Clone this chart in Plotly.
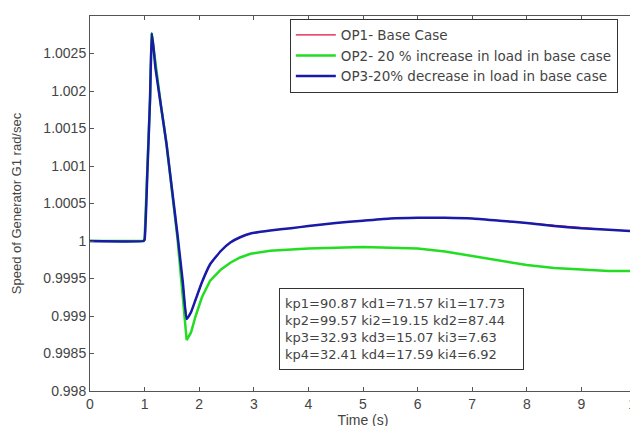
import plotly.graph_objects as go

# time (s)
time = [0, 0.98, 1.0, 1.05, 1.1, 1.13, 1.16, 1.2, 1.3, 1.4, 1.5, 1.6, 1.7, 1.77, 1.85, 1.93,
        2.05, 2.2, 2.4, 2.57, 2.75, 2.94, 3.3, 3.68, 4.0, 4.5, 5.0, 5.5, 6.0, 6.5, 7.0, 7.5,
        8.0, 8.5, 9.0, 9.5, 10.0]

op3 = [1.0, 1.0, 1.00002, 1.0009, 1.0019, 1.00277, 1.0026, 1.0023, 1.0018, 1.0013, 1.0007, 1.0001,
       0.99945, 0.99896, 0.99905, 0.99921, 0.99945, 0.99969, 0.99987, 0.99998, 1.00005, 1.0001,
       1.00014, 1.00017, 1.0002, 1.00024, 1.00027, 1.0003, 1.00031, 1.00031, 1.0003, 1.00027,
       1.00024, 1.0002, 1.00017, 1.00015, 1.00013]

op1 = list(op3)

op2 = [1.0, 1.0, 1.00002, 1.0009, 1.0019, 1.00277, 1.0026, 1.0023, 1.0018, 1.0013, 1.0007, 1.00005,
       0.99925, 0.99868, 0.99878, 0.99899, 0.99925, 0.99947, 0.99962, 0.99971, 0.99978, 0.99983,
       0.99987, 0.99989, 0.9999, 0.99991, 0.99992, 0.99991, 0.9999, 0.99986, 0.9998, 0.99974,
       0.99968, 0.99964, 0.99962, 0.9996, 0.9996]

series_names = ["OP1- Base Case",
                "OP2- 20 % increase in load in base case",
                "OP3-20% decrease in load in base case"]

y_tickvals = [0.998, 0.9985, 0.999, 0.9995, 1.0, 1.0005, 1.001, 1.0015, 1.002, 1.0025, 1.003]
y_ticktext = ["0.998", "0.9985", "0.999", "0.9995", "1", "1.0005", "1.001", "1.0015", "1.002", "1.0025", "1.003"]
x_tickvals = [0, 1, 2, 3, 4, 5, 6, 7, 8, 9, 10]

gain_lines = ["kp1=90.87 kd1=71.57 ki1=17.73",
              "kp2=99.57 ki2=19.15 kd2=87.44",
              "kp3=32.93 kd3=15.07 ki3=7.63",
              "kp4=32.41 kd4=17.59 ki4=6.92"]

fig = go.Figure()
fig.add_trace(go.Scatter(x=time, y=op1, mode="lines", name=series_names[0],
                         line=dict(color="#e0103a", width=1.2)))
fig.add_trace(go.Scatter(x=time, y=op2, mode="lines", name=series_names[1],
                         line=dict(color="#22dd22", width=2.5)))
fig.add_trace(go.Scatter(x=time, y=op3, mode="lines", name=series_names[2],
                         line=dict(color="#1a1aa8", width=2.5, shape="spline", smoothing=0.4)))

tick_font = dict(family="Liberation Sans, Arial, sans-serif", size=14, color="#444444")
txt_font = dict(family="DejaVu Sans, sans-serif", size=13, color="#444444")

fig.update_layout(
    width=638, height=426,
    margin=dict(l=82, r=10, t=8, b=43),
    paper_bgcolor="white", plot_bgcolor="white",
    font=tick_font,
    showlegend=True,
    legend=dict(x=0.366, y=0.993, xanchor="left", yanchor="top",
                bgcolor="white", bordercolor="#333333", borderwidth=1,
                font=dict(family="DejaVu Sans, sans-serif", size=13.5, color="#444444"),
                tracegroupgap=0, itemwidth=40),
    xaxis=dict(range=[0, 10], tickvals=x_tickvals, showgrid=False, zeroline=False,
               automargin=False, tickfont=tick_font,
               showline=True, linecolor="#555555", linewidth=1, mirror="ticks",
               ticks="inside", ticklen=4, tickcolor="#555555",
               title=dict(text="Time (s)", font=dict(family="Liberation Sans, Arial, sans-serif", size=14, color="#444444"), standoff=1)),
    yaxis=dict(range=[0.998, 1.003], tickvals=y_tickvals, ticktext=y_ticktext,
               showgrid=False, zeroline=False, automargin=False, tickfont=tick_font,
               showline=True, linecolor="#555555", linewidth=1, mirror="ticks",
               ticks="inside", ticklen=4, tickcolor="#555555",
               title=dict(text="Speed of Generator G1 rad/sec",
                          font=dict(family="Liberation Sans, Arial, sans-serif", size=13, color="#444444"), standoff=18)),
)

fig.add_annotation(
    xref="paper", yref="paper", x=(278 - 90) / 544, y=(391 - 288) / 375, xanchor="left", yanchor="top",
    text="<br>".join(gain_lines), showarrow=False, align="left", width=233, height=70,
    font=txt_font,
    bordercolor="#333333", borderwidth=1, borderpad=5, bgcolor="white",
)

fig.write_html("out.html")
